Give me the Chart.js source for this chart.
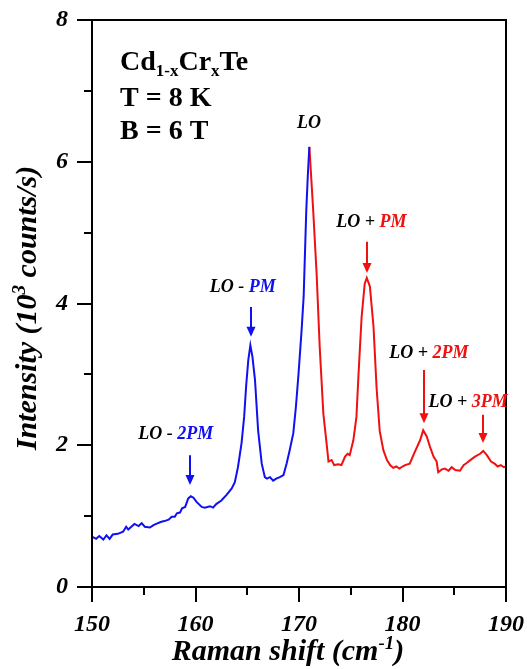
<!DOCTYPE html>
<html>
<head>
<meta charset="utf-8">
<script src="https://cdn.jsdelivr.net/npm/chart.js@4.4.1/dist/chart.umd.min.js"></script>
<style>
  html, body { margin: 0; padding: 0; background: #fff; }
  canvas { display: block; }
</style>
</head>
<body>
<canvas id="raman" width="527" height="669"></canvas>
<script>
// Raman spectrum, Cd1-xCrxTe at 8 K, 6 T
const blueShift = [150.0,150.4,150.7,151.1,151.4,151.7,152.0,152.5,153.0,153.3,
  153.5,153.8,154.1,154.5,154.8,155.1,155.6,155.9,156.2,156.7,
  157.0,157.4,157.7,158.0,158.2,158.5,158.7,159.0,159.3,159.55,
  159.8,160.1,160.6,160.9,161.4,161.7,162.0,162.5,163.0,163.5,
  163.8,164.1,164.45,164.7,164.9,165.1,165.3,165.5,165.75,166.05,
  166.4,166.7,166.9,167.2,167.5,167.8,168.15,168.5,168.8,169.1,
  169.45,169.7,169.95,170.25,170.45,170.7,170.85,171.0];
const blueIntensity = [0.71,0.68,0.72,0.67,0.73,0.68,0.74,0.75,0.78,0.85,
  0.81,0.85,0.89,0.86,0.90,0.85,0.84,0.87,0.89,0.92,
  0.93,0.95,0.99,0.99,1.04,1.05,1.11,1.13,1.25,1.28,
  1.26,1.20,1.13,1.12,1.14,1.12,1.17,1.22,1.30,1.39,
  1.48,1.69,2.03,2.40,2.85,3.20,3.41,3.25,2.92,2.21,
  1.74,1.55,1.53,1.55,1.50,1.53,1.55,1.58,1.74,1.93,
  2.17,2.54,3.00,3.62,4.10,5.30,5.80,6.21];

const redShift = [171.0,171.35,171.7,172.0,172.35,172.67,172.85,173.15,173.4,173.8,
  174.1,174.45,174.7,174.9,175.25,175.55,175.75,176.05,176.35,176.55,
  176.85,177.2,177.5,177.8,178.15,178.5,178.8,179.1,179.4,179.7,
  180.0,180.25,180.7,181.2,181.7,182.0,182.35,182.65,183.0,183.3,
  183.45,183.8,184.1,184.45,184.75,185.1,185.55,185.9,186.2,186.55,
  187.0,187.5,187.8,188.15,188.55,188.9,189.2,189.5,189.8,190.0];
const redIntensity = [6.21,5.37,4.43,3.39,2.45,2.02,1.77,1.79,1.72,1.73,
  1.72,1.84,1.88,1.86,2.07,2.40,3.00,3.81,4.28,4.36,
  4.24,3.67,2.80,2.20,1.93,1.79,1.72,1.68,1.70,1.67,
  1.70,1.72,1.74,1.91,2.07,2.21,2.12,1.98,1.84,1.77,
  1.62,1.66,1.67,1.64,1.69,1.65,1.64,1.72,1.75,1.79,
  1.84,1.88,1.92,1.86,1.77,1.74,1.70,1.72,1.69,1.70];

const xTicks = [150, 160, 170, 180, 190];
const yTicks = [0, 2, 4, 6, 8];

const BLUE = '#1010f0';
const RED = '#f01010';
const SERIF = "'Liberation Serif', 'Times New Roman', serif";

// peak labels: [black part, coloured part], label centre, arrow (x, tail y, tip y)
const peakNotes = [
  { text: ['LO', ''], color: '#000', at: [170.96, 6.54] },
  { text: ['LO - ', 'PM'], color: BLUE, at: [164.57, 4.23], arrow: [165.35, 3.95, 3.53] },
  { text: ['LO - ', '2PM'], color: BLUE, at: [158.1, 2.16], arrow: [159.45, 1.86, 1.44] },
  { text: ['LO + ', 'PM'], color: RED, at: [177.0, 5.14], arrow: [176.55, 4.87, 4.43] },
  { text: ['LO + ', '2PM'], color: RED, at: [182.55, 3.29], arrow: [182.1, 3.06, 2.31] },
  { text: ['LO + ', '3PM'], color: RED, at: [186.33, 2.61], arrow: [187.8, 2.43, 2.03] }
];

const toPoints = (xs, ys) => xs.map((x, i) => ({ x: x, y: ys[i] }));

// keep the plot box where the layout padding puts it
const fixBox = size => s => {
  if (s.isHorizontal()) s.height = size; else s.width = size;
  s.paddingLeft = s.paddingRight = s.paddingTop = s.paddingBottom = 0;
};

// draws frame, tick marks, axis titles, sample info and peak labels
const decorations = {
  id: 'decorations',
  afterDraw(chart) {
    const ctx = chart.ctx;
    const area = chart.chartArea;
    const xs = chart.scales.x;
    const ys = chart.scales.y;
    ctx.save();

    // frame
    ctx.strokeStyle = '#000';
    ctx.lineWidth = 2;
    ctx.strokeRect(area.left, area.top, area.right - area.left, area.bottom - area.top);

    // major / minor ticks, pointing outward
    ctx.beginPath();
    xs.ticks.forEach(t => {
      const px = Math.round(xs.getPixelForValue(t.value));
      const len = t.value % 10 === 0 ? 15 : 8;
      ctx.moveTo(px, area.bottom);
      ctx.lineTo(px, area.bottom + len);
    });
    ys.ticks.forEach(t => {
      const py = Math.round(ys.getPixelForValue(t.value));
      const len = t.value % 2 === 0 ? 15 : 8;
      ctx.moveTo(area.left, py);
      ctx.lineTo(area.left - len, py);
    });
    ctx.stroke();

    // axis titles
    ctx.fillStyle = '#000';
    ctx.textBaseline = 'alphabetic';
    const big = 'italic bold 30px ' + SERIF;
    const sup = 'italic bold 19px ' + SERIF;
    const pieces = (parts) => parts.reduce((w, p) => { ctx.font = p[1]; return w + ctx.measureText(p[0]).width; }, 0);
    const drawPieces = (parts, x, y) => {
      parts.forEach(p => {
        ctx.font = p[1];
        ctx.fillText(p[0], x, y + p[2]);
        x += ctx.measureText(p[0]).width;
      });
    };

    const xTitle = [['Raman shift (cm', big, 0], ['-1', sup, -11], [')', big, 0]];
    drawPieces(xTitle, 288 - pieces(xTitle) / 2, 660);

    const yTitle = [['Intensity (10', big, 0], ['3', sup, -11], [' counts/s)', big, 0]];
    ctx.save();
    ctx.translate(36, 308);
    ctx.rotate(-Math.PI / 2);
    drawPieces(yTitle, -pieces(yTitle) / 2, 0);
    ctx.restore();

    // sample info
    const info = 'bold 28px ' + SERIF;
    const sub = 'bold 17px ' + SERIF;
    ctx.textAlign = 'left';
    drawPieces([['Cd', info, 0], ['1-x', sub, 6], ['Cr', info, 0], ['x', sub, 6], ['Te', info, 0]], 120, 70);
    drawPieces([['T = 8 K', info, 0]], 120, 106);
    drawPieces([['B = 6 T', info, 0]], 120, 139);

    // peak labels and arrows
    const lab = 'italic bold 18px ' + SERIF;
    ctx.font = lab;
    peakNotes.forEach(n => {
      const w0 = ctx.measureText(n.text[0]).width;
      const w1 = ctx.measureText(n.text[1]).width;
      const cx = xs.getPixelForValue(n.at[0]);
      const cy = ys.getPixelForValue(n.at[1]);
      const x0 = cx - (w0 + w1) / 2;
      ctx.textBaseline = 'middle';
      ctx.fillStyle = '#000';
      ctx.fillText(n.text[0], x0, cy);
      ctx.fillStyle = n.color;
      ctx.fillText(n.text[1], x0 + w0, cy);

      if (n.arrow) {
        const ax = Math.round(xs.getPixelForValue(n.arrow[0]));
        const y1 = ys.getPixelForValue(n.arrow[1]);
        const y2 = ys.getPixelForValue(n.arrow[2]);
        ctx.strokeStyle = n.color;
        ctx.lineWidth = 2;
        ctx.beginPath();
        ctx.moveTo(ax, y1);
        ctx.lineTo(ax, y2 - 6);
        ctx.stroke();
        ctx.beginPath();
        ctx.moveTo(ax - 4.5, y2 - 10);
        ctx.lineTo(ax + 4.5, y2 - 10);
        ctx.lineTo(ax, y2);
        ctx.closePath();
        ctx.fill();
      }
    });

    ctx.restore();
  }
};

const tickFont = { family: SERIF, size: 24, style: 'italic', weight: 'bold' };

new Chart(document.getElementById('raman'), {
  type: 'line',
  data: {
    datasets: [
      {
        data: toPoints(blueShift, blueIntensity),
        borderColor: BLUE,
        borderWidth: 2,
        pointRadius: 0,
        tension: 0
      },
      {
        data: toPoints(redShift, redIntensity),
        borderColor: RED,
        borderWidth: 2,
        pointRadius: 0,
        tension: 0
      }
    ]
  },
  options: {
    responsive: false,
    animation: false,
    layout: { padding: { top: 20, right: 21, left: 0, bottom: 0 } },
    plugins: {
      legend: { display: false },
      tooltip: { enabled: false }
    },
    scales: {
      x: {
        type: 'linear',
        min: 150,
        max: 190,
        afterFit: fixBox(82),
        border: { display: false },
        grid: { drawOnChartArea: false, drawTicks: false },
        ticks: {
          stepSize: 5,
          color: '#000',
          font: tickFont,
          padding: 23,
          maxRotation: 0,
          autoSkip: false,
          callback: v => (xTicks.includes(v) ? v : '')
        }
      },
      y: {
        min: 0,
        max: 8,
        afterFit: fixBox(92),
        border: { display: false },
        grid: { drawOnChartArea: false, drawTicks: false },
        ticks: {
          stepSize: 1,
          color: '#000',
          font: tickFont,
          padding: 24,
          autoSkip: false,
          callback: v => (yTicks.includes(v) ? v : '')
        }
      }
    }
  },
  plugins: [decorations]
});
</script>
</body>
</html>
